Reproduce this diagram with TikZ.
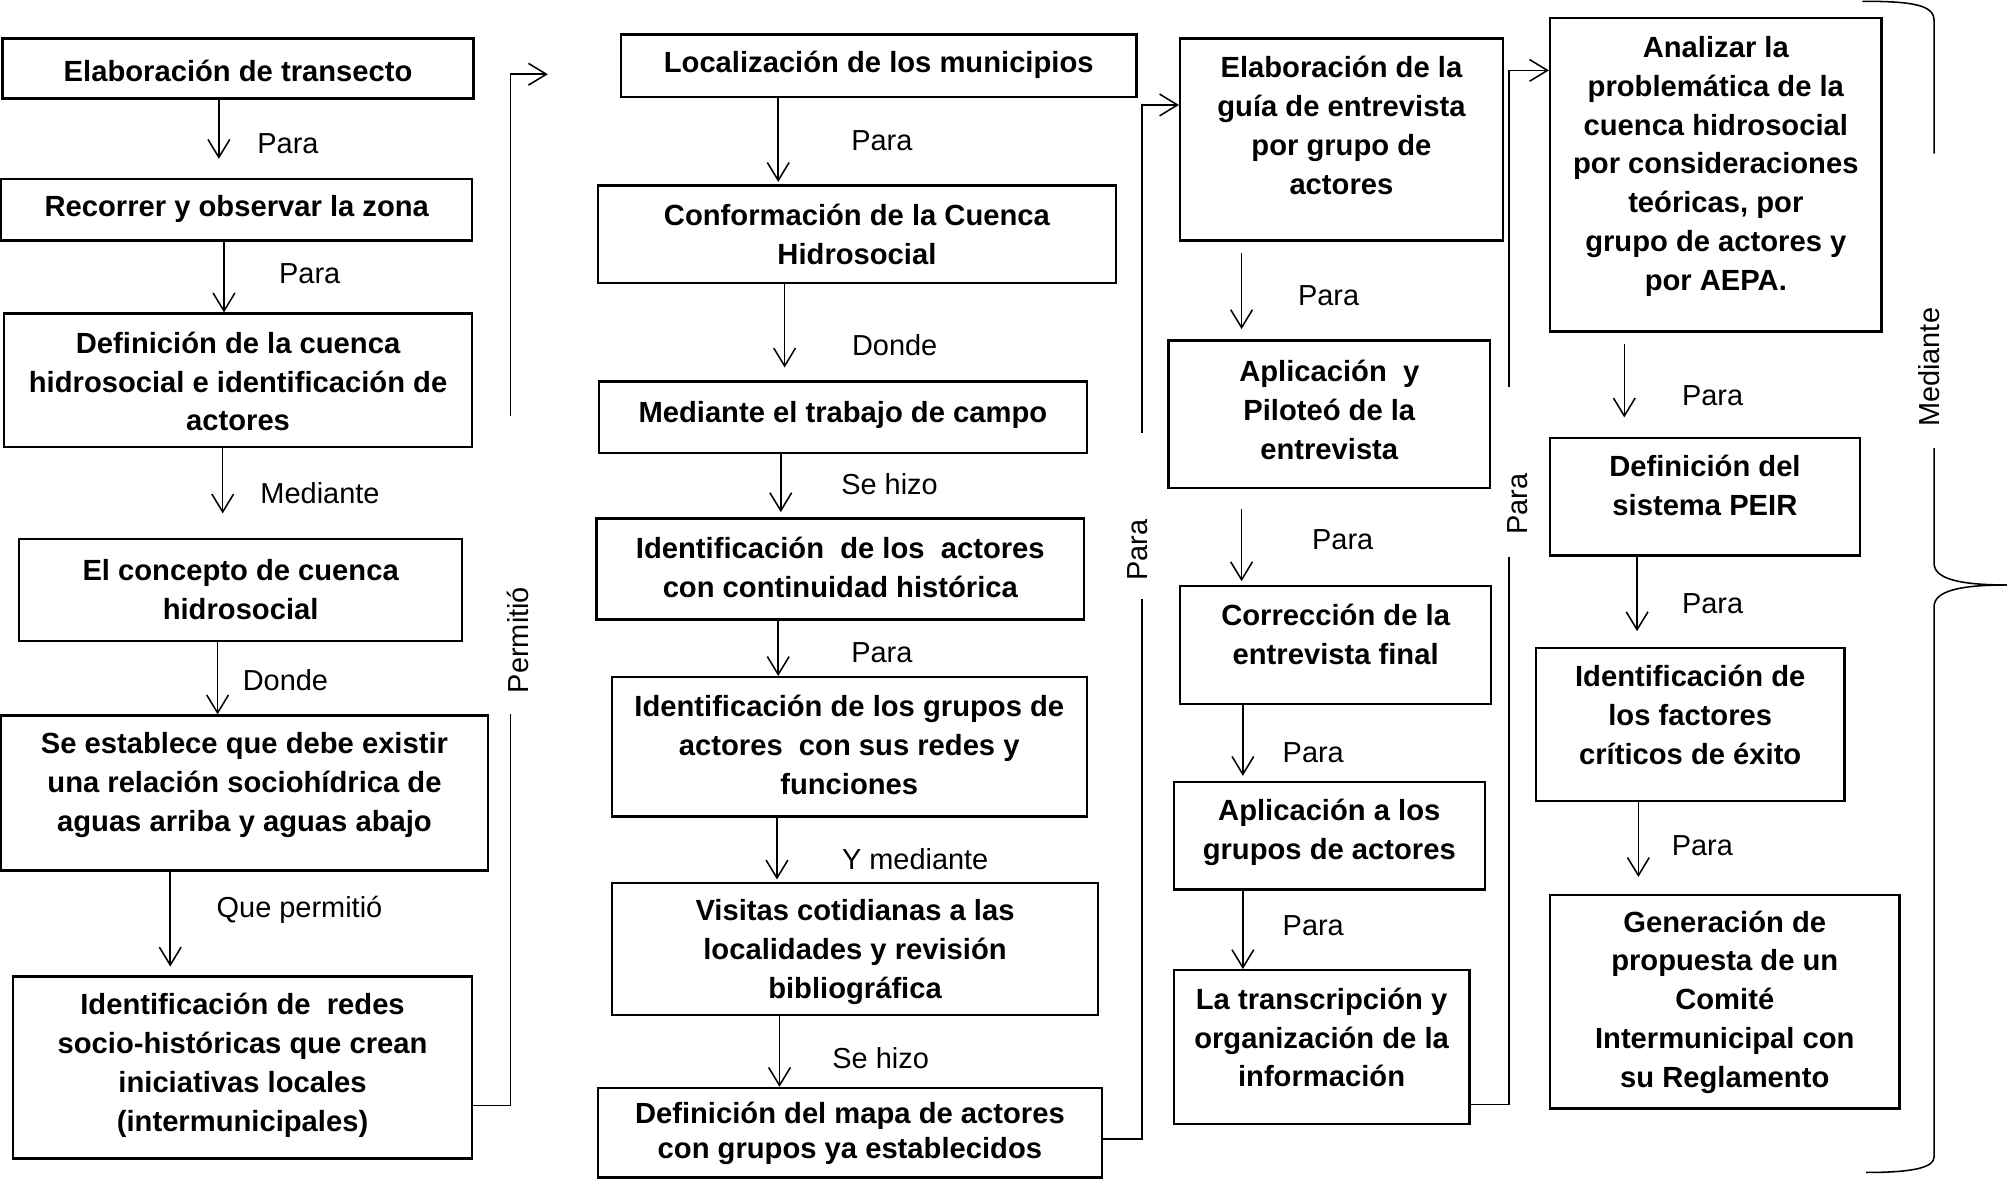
\documentclass[tikz,border=0pt]{standalone}
\usepackage{fontspec}
\setmainfont{Liberation Sans}
\usetikzlibrary{arrows.meta}
\newcommand\mybox[5]{\node[box, minimum width={(#4-#2)*0.5pt}, minimum height={(#5-#3)*0.5pt}] (#1) at ({(#2+#4)/2},{(#3+#5)/2}) {};}
\begin{document}
\begin{tikzpicture}[x=0.5pt,y=-0.5pt,
  box/.style={draw, line width=0.9pt, inner sep=0pt, rectangle},
  btxt/.style={font=\fontsize{11.4}{15.2}\selectfont\bfseries, align=center, inner sep=0pt},
  lbl/.style={font=\fontsize{11.3}{13.6}\selectfont, inner sep=0pt},
  conn/.style={line width=0.6pt},
  arr/.style={conn, -{Straight Barb[length=7pt,width=8.5pt,line width=0.6pt]}},
]
\useasboundingbox (0,0) rectangle (1568,923);

% ---------- column 1 ----------
\mybox{b1}{2}{30}{370}{77}
\mybox{b2}{1}{140}{369}{188}
\mybox{b3}{3}{245}{369}{349}
\mybox{b4}{15}{421}{361}{501}
\mybox{b5}{1}{559}{381}{680}
\mybox{b6}{10}{763}{369}{905}
\node[btxt] (b1t) at (186,55.5) {Elaboración de transecto};
\node[btxt] (b2t) at (185,163.5) {Recorrer y observar la zona};
\node[btxt] (b3t) at (186,298) {Definición de la cuenca\\hidrosocial e identificación de\\actores};
\node[btxt] (b4t) at (188,460.5) {El concepto de cuenca\\hidrosocial};
\node[btxt] (b5t) at (191,613) {Se establece que debe existir\\una relación sociohídrica de\\aguas arriba y aguas abajo};
\node[btxt] (b6t) at (189.5,832.5) {Identificación de\ \ redes\\socio-históricas que crean\\iniciativas locales\\(intermunicipales)};

% ---------- column 2 ----------
\mybox{c1}{485}{27}{888}{76}
\mybox{c2}{467}{145}{872}{221}
\mybox{c3}{468}{298}{849}{354}
\mybox{c4}{466}{405}{847}{484}
\mybox{c5}{478}{529}{849}{638}
\mybox{c6}{478}{690}{858}{793}
\mybox{c7}{467}{850}{861}{920}
\node[btxt] (c1t) at (686.5,50.5) {Localización de los municipios};
\node[btxt] (c2t) at (669.5,183) {Conformación de la Cuenca\\Hidrosocial};
\node[btxt] (c3t) at (658.5,324.5) {Mediante el trabajo de campo};
\node[btxt] (c4t) at (656.5,443.5) {Identificación\ \ de los\ \ actores\\con continuidad histórica};
\node[btxt] (c5t) at (663.5,582) {Identificación de los grupos de\\actores\ \ con sus redes y\\funciones};
\node[btxt] (c6t) at (668,744) {Visitas cotidianas a las\\localidades y revisión\\bibliográfica};
\node[btxt, font=\fontsize{11.4}{13.5}\selectfont\bfseries] (c7t) at (664,885.5) {Definición del mapa de actores\\con grupos ya establecidos};

% ---------- column 3 ----------
\mybox{d1}{922}{30}{1174}{188}
\mybox{d2}{913}{266}{1164}{381}
\mybox{d3}{922}{458}{1165}{550}
\mybox{d4}{917}{611}{1160}{695}
\mybox{d5}{917}{758}{1148}{878}
\node[btxt] (d1t) at (1048,98) {Elaboración de la\\guía de entrevista\\por grupo de\\actores};
\node[btxt] (d2t) at (1038.5,320) {Aplicación\ \ y\\Piloteó de la\\entrevista};
\node[btxt] (d3t) at (1043.5,495.5) {Corrección de la\\entrevista final};
\node[btxt] (d4t) at (1038.5,650) {Aplicación a los\\grupos de actores};
\node[btxt] (d5t) at (1032.5,810.5) {La transcripción y\\organización de la\\información};

% ---------- column 4 ----------
\mybox{e1}{1211}{14}{1470}{259}
\mybox{e2}{1211}{342}{1453}{434}
\mybox{e3}{1200}{506}{1441}{626}
\mybox{e4}{1211}{699}{1484}{866}
\node[btxt] (e1t) at (1340.5,130) {Analizar la\\problemática de la\\cuenca hidrosocial\\por consideraciones\\teóricas, por\\grupo de actores y\\por AEPA.};
\node[btxt] (e2t) at (1332,379.5) {Definición del\\sistema PEIR};
\node[btxt] (e3t) at (1320.5,558.5) {Identificación de\\los factores\\críticos de éxito};
\node[btxt] (e4t) at (1347.5,783) {Generación de\\propuesta de un\\Comité\\Intermunicipal con\\su Reglamento};

% ---------- vertical arrows ----------
\coordinate (x1) at (171,0);  \coordinate (x2) at (175,0);  \coordinate (x3) at (174,0);
\coordinate (x4) at (170,0);  \coordinate (x5) at (133,0);
\coordinate (x6) at (608,0);  \coordinate (x7) at (613,0);  \coordinate (x8) at (610,0);
\coordinate (x9) at (608,0);  \coordinate (x10) at (607,0); \coordinate (x11) at (609,0);
\coordinate (x12) at (970,0); \coordinate (x13) at (970,0); \coordinate (x14) at (971,0);
\coordinate (x15) at (971,0); \coordinate (x16) at (1269,0); \coordinate (x17) at (1279,0);
\coordinate (x18) at (1280,0);

\draw[arr, shorten >=7.5pt] (b1.south -| x1) -- (b2.north -| x1);
\draw[arr] (b2.south -| x2) -- (b3.north -| x2);
\draw[arr, shorten >=9.5pt] (b3.south -| x3) -- (b4.north -| x3);
\draw[arr] (b4.south -| x4) -- (b5.north -| x4);
\draw[arr, shorten >=3.5pt] (b5.south -| x5) -- (b6.north -| x5);

\draw[arr, shorten >=1pt] (c1.south -| x6) -- (c2.north -| x6);
\draw[arr, shorten >=5pt] (c2.south -| x7) -- (c3.north -| x7);
\draw[arr, shorten >=2pt] (c3.south -| x8) -- (c4.north -| x8);
\draw[arr] (c4.south -| x9) -- (c5.north -| x9);
\draw[arr, shorten >=1pt] (c5.south -| x10) -- (c6.north -| x10);
\draw[arr] (c6.south -| x11) -- (c7.north -| x11);

\draw[arr, shorten <=4.5pt, shorten >=4pt] (d1.south -| x12) -- (d2.north -| x12);
\draw[arr, shorten <=8pt, shorten >=1.5pt] (d2.south -| x13) -- (d3.north -| x13);
\draw[arr, shorten >=2pt] (d3.south -| x14) -- (d4.north -| x14);
\draw[arr] (d4.south -| x15) -- (d5.north -| x15);

\draw[arr, shorten <=4.5pt, shorten >=7.5pt] (e1.south -| x16) -- (e2.north -| x16);
\draw[arr, shorten >=6pt] (e2.south -| x17) -- (e3.north -| x17);
\draw[arr, shorten >=6.5pt] (e3.south -| x18) -- (e4.north -| x18);

% ---------- arrow labels ----------
\node[lbl] (l1) at (225,112) {Para};
\node[lbl] (l2) at (242,214) {Para};
\node[lbl] (l3) at (250,385) {Mediante};
\node[lbl] (l4) at (223,531) {Donde};
\node[lbl] (l5) at (234,711) {Que permitió};
\node[lbl] (l6) at (689,110) {Para};
\node[lbl] (l7) at (699,270) {Donde};
\node[lbl] (l8) at (695,378) {Se hizo};
\node[lbl] (l9) at (689,510) {Para};
\node[lbl] (l10) at (715,671) {Y mediante};
\node[lbl] (l11) at (688,827) {Se hizo};
\node[lbl] (l12) at (1038,231) {Para};
\node[lbl] (l13) at (1049,422) {Para};
\node[lbl] (l14) at (1026,588) {Para};
\node[lbl] (l15) at (1026,723) {Para};
\node[lbl] (l16) at (1338,309) {Para};
\node[lbl] (l17) at (1338,472) {Para};
\node[lbl] (l18) at (1330,661) {Para};

% ---------- elbow connectors ----------
\coordinate (pA1) at (399,558); \coordinate (pA2) at (399,325); \coordinate (pA3) at (428,58);
\draw[conn] ([yshift=-14.75pt]b6.east) -| (pA1);
\draw[arr] (pA2) |- (pA3);
\node[lbl, rotate=90] (lp1) at (405,500) {Permitió};

\coordinate (pB1) at (892,468); \coordinate (pB2) at (892,338);
\draw[conn] ([yshift=-2.5pt]c7.east) -| (pB1);
\draw[arr] (pB2) |- ([yshift=13.5pt]d1.west);
\node[lbl, rotate=90] (lp2) at (889,430) {Para};

\coordinate (pC1) at (1179,435); \coordinate (pC2) at (1179,302);
\draw[conn] ([yshift=-22.5pt]d5.east) -| (pC1);
\draw[arr] (pC2) |- ([yshift=40.75pt]e1.west);
\node[lbl, rotate=90] (lp3) at (1186,394) {Para};

% ---------- brace ----------
\draw[conn] (1455,1) .. controls (1495,1) and (1511,4) .. (1511,16) -- (1511,120);
\draw[conn] (1511,350) -- (1511,440) .. controls (1511,452) and (1530,457) .. (1568,457);
\draw[conn] (1568,457) .. controls (1530,457) and (1511,462) .. (1511,474) -- (1511,904) .. controls (1511,912) and (1495,916) .. (1458,916);
\node[lbl, rotate=90] (lm) at (1507,287) {Mediante};
\end{tikzpicture}
\end{document}
